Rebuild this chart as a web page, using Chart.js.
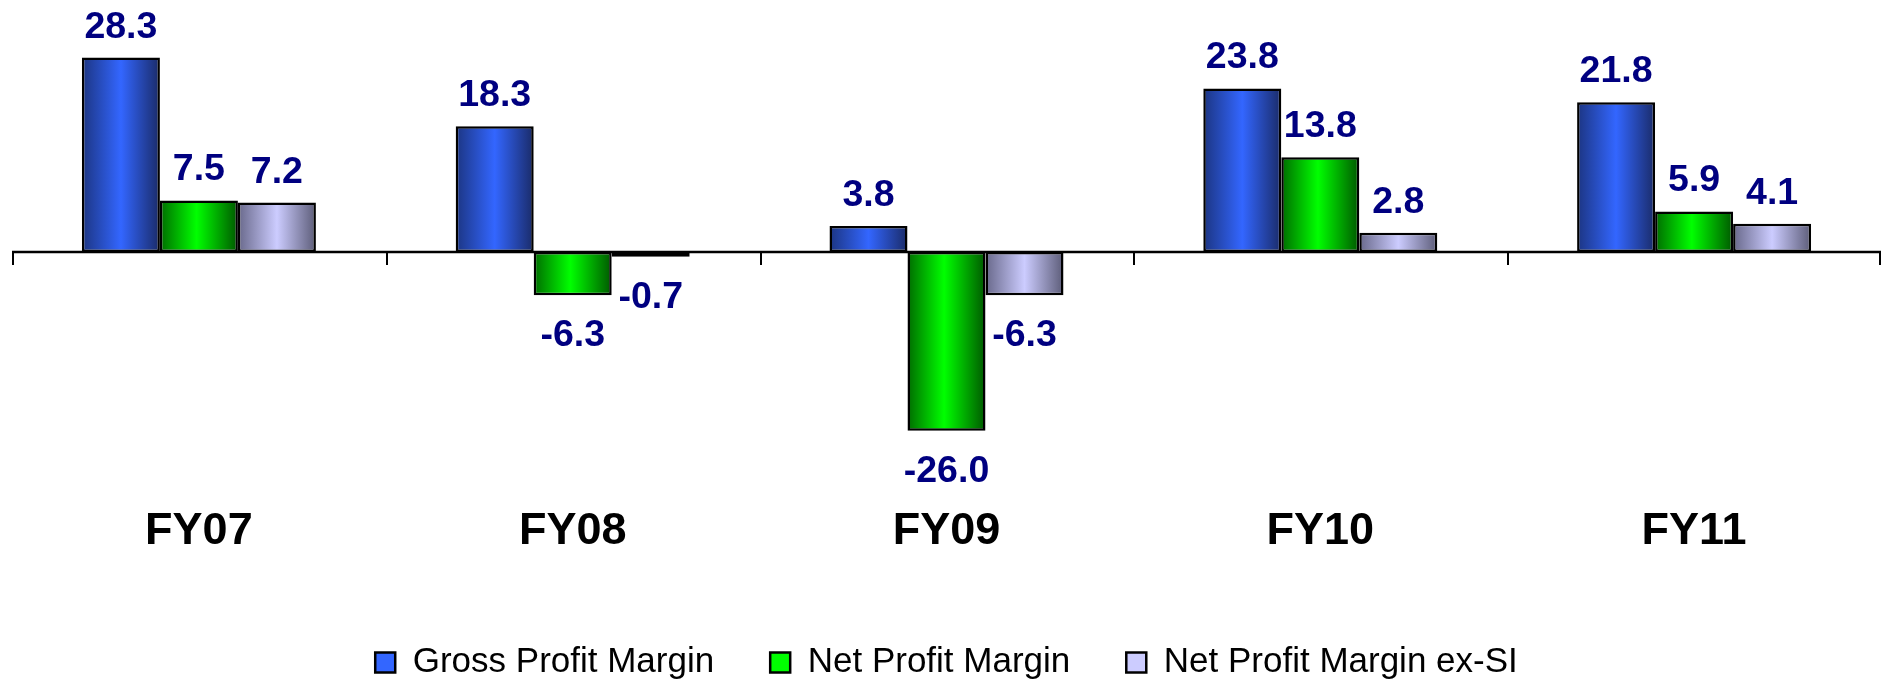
<!DOCTYPE html>
<html>
<head>
<meta charset="utf-8">
<script src="https://cdn.jsdelivr.net/npm/chart.js@4"></script>
<style>
  html, body { margin: 0; padding: 0; background: #ffffff; }
  #wrap { width: 1890px; height: 683px; }
</style>
</head>
<body>
<div id="wrap"><canvas id="c" width="1890" height="683"></canvas></div>
<script>
const categories = ['FY07', 'FY08', 'FY09', 'FY10', 'FY11'];
const grossProfitMargin = [28.3, 18.3, 3.8, 23.8, 21.8];
const netProfitMargin = [7.5, -6.3, -26.0, 13.8, 5.9];
const netProfitMarginExSI = [7.2, -0.7, -6.3, 2.8, 4.1];
const seriesNames = ['Gross Profit Margin', 'Net Profit Margin', 'Net Profit Margin ex-SI'];

const FONT = '"Liberation Sans", Arial, sans-serif';
const CAT_PCT = 0.626;
const solidColors = ['#3366ff', '#00ff00', '#ccccff'];
const gradStops = [
  [[0, '#1c3582'], [0.5, '#3366ff'], [1, '#1a2b68']],
  [[0, '#006c00'], [0.47, '#00ff00'], [1, '#005800']],
  [[0, '#68688a'], [0.5, '#ccccff'], [1, '#5c5c78']]
];

function barFill(ctx) {
  const chart = ctx.chart;
  const di = ctx.datasetIndex;
  if (ctx.type !== 'data' || !chart.chartArea || !chart.scales.x) return solidColors[di];
  const xs = chart.scales.x;
  const n = chart.data.datasets.length;
  const catW = (xs.right - xs.left) / categories.length;
  const group = catW * CAT_PCT;
  const chunk = group / n;
  const center = xs.getPixelForValue(ctx.dataIndex);
  const left = center - group / 2 + chunk * di;
  const g = chart.ctx.createLinearGradient(left, 0, left + chunk, 0);
  gradStops[di].forEach(s => g.addColorStop(s[0], s[1]));
  return g;
}

const legendShift = {
  id: 'legendShift',
  afterLayout(chart) {
    const l = chart.legend;
    if (l) { l.top += 7; l.bottom += 7; }
  }
};

const axisAndLabels = {
  id: 'axisAndLabels',
  afterDatasetsDraw(chart) {
    const c = chart.ctx;
    const xs = chart.scales.x, ys = chart.scales.y;
    const y0 = ys.getPixelForValue(0);
    c.save();
    c.strokeStyle = '#000';
    c.lineWidth = 2.5;
    c.beginPath();
    c.moveTo(xs.left, y0);
    c.lineTo(xs.right, y0);
    c.stroke();
    const catW = (xs.right - xs.left) / categories.length;
    c.lineWidth = 2;
    for (let i = 0; i <= categories.length; i++) {
      const x = Math.round(xs.left + i * catW) + (i === categories.length ? -1 : 1);
      c.beginPath();
      c.moveTo(x, y0);
      c.lineTo(x, y0 + 13);
      c.stroke();
    }
    // value labels
    c.fillStyle = '#000080';
    c.font = 'bold 37.5px ' + FONT;
    c.textAlign = 'center';
    c.textBaseline = 'alphabetic';
    chart.data.datasets.forEach((ds, di) => {
      const meta = chart.getDatasetMeta(di);
      meta.data.forEach((el, i) => {
        const v = ds.data[i];
        const y = v >= 0 ? el.y - 20 : el.y + 51;
        c.fillText(v.toFixed(1), el.x, y);
      });
    });
    c.restore();
  }
};

const datasets = [grossProfitMargin, netProfitMargin, netProfitMarginExSI].map((d, i) => ({
  label: seriesNames[i],
  data: d,
  backgroundColor: barFill,
  borderColor: '#000000',
  borderWidth: 2.5,
  borderSkipped: false,
  categoryPercentage: CAT_PCT,
  barPercentage: 1.0
}));

new Chart(document.getElementById('c'), {
  type: 'bar',
  data: { labels: categories, datasets: datasets },
  options: {
    responsive: false,
    animation: false,
    devicePixelRatio: 1,
    layout: { padding: { left: 12, right: 9, top: 6, bottom: 0 } },
    plugins: {
      legend: {
        position: 'bottom',
        labels: {
          boxWidth: 20,
          boxHeight: 20,
          padding: 56,
          color: '#000000',
          font: { family: FONT, size: 35 },
          generateLabels(chart) {
            return chart.data.datasets.map((ds, i) => ({
              text: ds.label,
              fillStyle: solidColors[i],
              strokeStyle: '#000000',
              lineWidth: 2.5,
              hidden: false,
              datasetIndex: i
            }));
          }
        }
      },
      tooltip: { enabled: false }
    },
    scales: {
      x: {
        offset: true,
        grid: { display: false, drawTicks: false },
        border: { display: false },
        ticks: {
          color: '#000000',
          padding: 7,
          font: { family: FONT, size: 45, weight: 'bold' }
        },
        afterFit(scale) { scale.height = 84; }
      },
      y: {
        display: false,
        min: -35.8,
        max: 35.8
      }
    }
  },
  plugins: [legendShift, axisAndLabels]
});
</script>
</body>
</html>
